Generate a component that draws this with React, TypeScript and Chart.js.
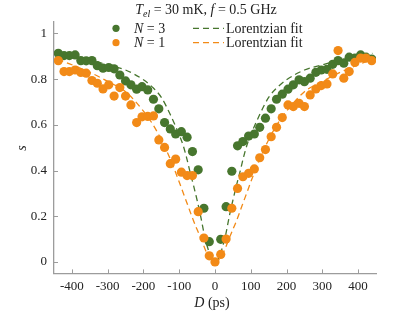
import React, { useEffect, useRef } from "react";
import { Chart, registerables } from "chart.js";

Chart.register(...registerables);

// Delay positions D (ps) of the measured points
const delays = [
  -438, -422, -407, -391, -375, -360, -344, -329, -313, -297, -282, -266, -250, -235,
  -219, -204, -188, -172, -157, -141, -125, -110, -94, -78, -63, -47, -31, -16, 0,
  16, 31, 47, 63, 78, 94, 110, 125, 141, 157, 172, 188, 204, 219, 235, 250, 266,
  282, 297, 313, 329, 344, 360, 375, 391, 407, 422, 438,
];

// N = 3 measured s
const n3Values: (number | null)[] = [
  0.913, 0.903, 0.903, 0.906, 0.881, 0.88, 0.881, 0.859, 0.848, 0.851, 0.845, 0.818, 0.792, 0.775,
  0.756, 0.767, 0.753, 0.712, 0.67, 0.61, 0.582, 0.56, 0.57, 0.546, 0.483, 0.403, 0.235, 0.089, null,
  0.099, 0.242, 0.397, 0.508, 0.527, 0.551, 0.56, 0.589, 0.629, 0.67, 0.712, 0.734, 0.756, 0.775, 0.797, 0.789, 0.804,
  0.83, 0.84, 0.843, 0.865, 0.881, 0.87, 0.896, 0.892, 0.906, 0.896, 0.888,
];

// N = 1 measured s
const n1Values: (number | null)[] = [
  0.881, 0.833, 0.833, 0.84, 0.829, 0.826, 0.794, 0.782, 0.757, 0.775, 0.726, 0.763, 0.726, 0.687,
  0.61, 0.635, 0.637, 0.639, 0.534, 0.501, 0.43, 0.45, 0.393, 0.378, 0.378, 0.22, 0.105, 0.027, 0.0,
  0.033, 0.1, 0.235, 0.322, 0.373, 0.388, 0.407, 0.456, 0.492, 0.548, 0.589, 0.632, 0.687, 0.68, 0.694, 0.68, 0.731,
  0.757, 0.772, 0.779, 0.823, 0.925, 0.804, 0.833, 0.873, 0.892, 0.892, 0.881,
];

// Lorentzian fit curves
const fitDelays = [
  -440, -400, -350, -300, -250, -200, -175, -150, -125, -100, -90, -80, -70, -60, -50, -40, -30, -20, -10, 0,
  10, 20, 30, 40, 50, 60, 70, 80, 90, 100, 125, 150, 175, 200, 250, 300, 350, 400, 440,
];
const fitN3 = [
  0.913, 0.9, 0.884, 0.862, 0.84, 0.797, 0.765, 0.72, 0.645, 0.556, 0.515, 0.46, 0.395, 0.335, 0.27, 0.2, 0.12, 0.06, 0.016, 0.0,
  0.016, 0.06, 0.12, 0.2, 0.27, 0.335, 0.395, 0.46, 0.515, 0.556, 0.645, 0.72, 0.765, 0.797, 0.84, 0.862, 0.884, 0.9, 0.913,
];
const fitN1 = [
  0.887, 0.863, 0.83, 0.79, 0.745, 0.66, 0.605, 0.535, 0.45, 0.35, 0.307, 0.265, 0.222, 0.18, 0.142, 0.105, 0.065, 0.03, 0.008, 0.0,
  0.008, 0.03, 0.065, 0.105, 0.142, 0.18, 0.222, 0.265, 0.307, 0.35, 0.45, 0.535, 0.605, 0.66, 0.745, 0.79, 0.83, 0.863, 0.887,
];

const xTicks = [-400, -300, -200, -100, 0, 100, 200, 300, 400];
const yTicks = [0, 0.2, 0.4, 0.6, 0.8, 1];

const GREEN = "#47762e";
const ORANGE = "#f28a17";
const AXIS = "#9c9c9c";
const TEXT = "#222222";
const SERIF = '"Liberation Serif", "Times New Roman", serif';

type Seg = { t: string; it?: boolean; size?: number; dy?: number };

function richWidth(ctx: CanvasRenderingContext2D, segs: Seg[], base: number) {
  let w = 0;
  for (const s of segs) {
    ctx.font = `${s.it ? "italic " : ""}${s.size ?? base}px ${SERIF}`;
    w += ctx.measureText(s.t).width;
  }
  return w;
}

function drawRich(ctx: CanvasRenderingContext2D, segs: Seg[], x: number, baseline: number, base: number, align: "left" | "center") {
  let cx = align === "center" ? x - richWidth(ctx, segs, base) / 2 : x;
  ctx.textAlign = "left";
  ctx.textBaseline = "alphabetic";
  ctx.fillStyle = TEXT;
  for (const s of segs) {
    ctx.font = `${s.it ? "italic " : ""}${s.size ?? base}px ${SERIF}`;
    ctx.fillText(s.t, cx, baseline + (s.dy ?? 0));
    cx += ctx.measureText(s.t).width;
  }
}

const decor = {
  id: "decor",
  afterDraw(chart: any) {
    const { ctx, chartArea: a, scales } = chart;
    const xs = scales.x;
    const ys = scales.y;
    ctx.save();
    // inward tick marks
    ctx.strokeStyle = AXIS;
    ctx.lineWidth = 1;
    ctx.beginPath();
    for (const t of xs.ticks) {
      const px = Math.round(xs.getPixelForValue(t.value)) + 0.5;
      ctx.moveTo(px, a.bottom);
      ctx.lineTo(px, a.bottom - 4);
    }
    for (const t of ys.ticks) {
      const py = Math.round(ys.getPixelForValue(t.value)) + 0.5;
      ctx.moveTo(a.left, py);
      ctx.lineTo(a.left + 4, py);
    }
    ctx.stroke();

    // title
    drawRich(
      ctx,
      [
        { t: "T", it: true },
        { t: "el", it: true, size: 10, dy: 3 },
        { t: " = 30 mK, " },
        { t: "f", it: true },
        { t: " = 0.5 GHz" },
      ],
      206,
      13.5,
      14,
      "center"
    );

    // legend
    const rows = [
      { color: GREEN, label: [{ t: "N", it: true }, { t: " = 3" }] as Seg[], y: 28.3 },
      { color: ORANGE, label: [{ t: "N", it: true }, { t: " = 1" }] as Seg[], y: 42.7 },
    ];
    for (const r of rows) {
      ctx.fillStyle = r.color;
      ctx.beginPath();
      ctx.arc(116, r.y, 3.6, 0, Math.PI * 2);
      ctx.fill();
      drawRich(ctx, r.label, 134, r.y + 4.3, 14, "left");
      ctx.strokeStyle = r.color;
      ctx.lineWidth = 1.3;
      ctx.setLineDash([6, 4]);
      ctx.beginPath();
      ctx.moveTo(193, r.y);
      ctx.lineTo(224, r.y);
      ctx.stroke();
      ctx.setLineDash([]);
      drawRich(ctx, [{ t: "Lorentzian fit" }], 226, r.y + 4.3, 14, "left");
    }

    // axis titles
    drawRich(ctx, [{ t: "D", it: true }, { t: " (ps)" }], 212, 306.5, 14, "center");
    ctx.save();
    ctx.translate(26, 148);
    ctx.rotate(-Math.PI / 2);
    drawRich(ctx, [{ t: "s", it: true }], 0, 0, 14, "center");
    ctx.restore();

    ctx.restore();
  },
};

function points(xv: number[], yv: (number | null)[]) {
  const out: { x: number; y: number }[] = [];
  xv.forEach((x, i) => {
    const y = yv[i];
    if (y !== null && y !== undefined) out.push({ x, y });
  });
  return out;
}

export default function App() {
  const ref = useRef<HTMLCanvasElement | null>(null);

  useEffect(() => {
    if (!ref.current) return;
    const chart = new Chart(ref.current, {
      type: "scatter",
      data: {
        datasets: [
          {
            label: "Lorentzian fit (N = 1)",
            data: points(fitDelays, fitN1),
            showLine: true,
            borderColor: ORANGE,
            borderWidth: 1.3,
            borderDash: [6, 4],
            pointRadius: 0,
            cubicInterpolationMode: "monotone",
            fill: false,
            order: 1,
          },
          {
            label: "N = 1",
            data: points(delays, n1Values),
            backgroundColor: ORANGE,
            borderWidth: 0,
            pointRadius: 4.6,
            order: 2,
          },
          {
            label: "Lorentzian fit (N = 3)",
            data: points(fitDelays, fitN3),
            showLine: true,
            borderColor: GREEN,
            borderWidth: 1.3,
            borderDash: [6, 4],
            pointRadius: 0,
            cubicInterpolationMode: "monotone",
            fill: false,
            order: 3,
          },
          {
            label: "N = 3",
            data: points(delays, n3Values),
            backgroundColor: GREEN,
            borderWidth: 0,
            pointRadius: 4.6,
            order: 4,
          },
        ] as any,
      },
      options: {
        animation: false,
        responsive: false,
        maintainAspectRatio: false,
        layout: { padding: { left: 0, right: 39, top: 22, bottom: 0 } },
        plugins: { legend: { display: false }, title: { display: false }, tooltip: { enabled: false } },
        scales: {
          x: {
            type: "linear",
            min: -450,
            max: 450,
            afterBuildTicks: (s: any) => {
              s.ticks = xTicks.map((v) => ({ value: v }));
            },
            afterFit: (s: any) => {
              s.height = 38.6;
            },
            ticks: {
              font: { family: SERIF, size: 13 },
              color: TEXT,
              padding: 5,
              maxRotation: 0,
              autoSkip: false,
              callback: (v: any) => String(v),
            },
            grid: { display: false, drawTicks: false },
            border: { display: true, color: AXIS, width: 1.3 },
          },
          y: {
            type: "linear",
            min: -0.05,
            max: 1.05,
            afterBuildTicks: (s: any) => {
              s.ticks = yTicks.map((v) => ({ value: v }));
            },
            afterFit: (s: any) => {
              s.width = 54;
            },
            ticks: {
              font: { family: SERIF, size: 13 },
              color: TEXT,
              padding: 7,
              autoSkip: false,
              callback: (v: any) => String(v),
            },
            grid: { display: false, drawTicks: false },
            border: { display: true, color: AXIS, width: 1.3 },
          },
        },
      } as any,
      plugins: [decor],
    });
    return () => chart.destroy();
  }, []);

  return (
    <div style={{ position: "fixed", left: 0, top: 0, width: 415, height: 312, background: "#ffffff" }}>
      <canvas ref={ref} width={415} height={312} style={{ display: "block", width: 415, height: 312 }} />
    </div>
  );
}
